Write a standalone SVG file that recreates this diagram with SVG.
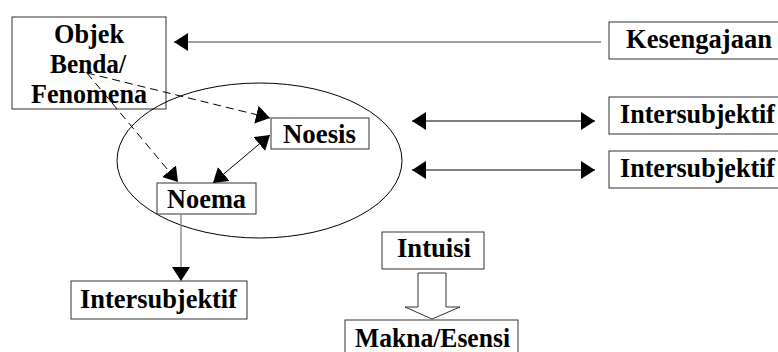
<svg xmlns="http://www.w3.org/2000/svg" width="778" height="352" viewBox="0 0 778 352">
<defs>
<style>
.box{fill:#fff;stroke:#333;stroke-width:1}
.ln{stroke:#000;stroke-width:1;fill:none}
.gray{stroke:#808080;stroke-width:1.3;fill:none}
.dash{stroke:#000;stroke-width:1;fill:none;stroke-dasharray:8 5}
</style>
<marker id="ah" markerUnits="userSpaceOnUse" markerWidth="15" markerHeight="19" refX="14" refY="9" orient="auto-start-reverse" viewBox="0 0 15 19">
<path d="M0,0 L14,9 L0,18 z" fill="#000"/>
</marker>
</defs>
<rect width="778" height="352" fill="#fff"/>
<g font-family="Liberation Serif, Tinos, Times New Roman, serif" font-weight="bold" font-size="26.5" fill="#000">
<g id="objek">
<rect class="box" x="12" y="17" width="154" height="92"/>
<text x="54" y="43" textLength="70" lengthAdjust="spacingAndGlyphs">Objek</text>
<text x="50" y="73" textLength="76" lengthAdjust="spacingAndGlyphs">Benda/</text>
<text x="31" y="103" textLength="116" lengthAdjust="spacingAndGlyphs">Fenomena</text>
</g>
<g id="kesengajaan">
<rect class="box" x="609" y="22" width="190" height="37"/>
<text x="626" y="48" textLength="146" lengthAdjust="spacingAndGlyphs">Kesengajaan</text>
</g>
<g id="intersubjektif1">
<rect class="box" x="609" y="97" width="190" height="37"/>
<text x="620" y="123" textLength="155" lengthAdjust="spacingAndGlyphs">Intersubjektif</text>
</g>
<g id="intersubjektif2">
<rect class="box" x="609" y="151" width="190" height="37"/>
<text x="620" y="177" textLength="155" lengthAdjust="spacingAndGlyphs">Intersubjektif</text>
</g>
<g id="kesadaran">
<ellipse class="ln" cx="259.5" cy="160.5" rx="142.5" ry="77.5"/>
</g>
<g id="noesis">
<rect class="box" x="271" y="118" width="98" height="31"/>
<text x="283" y="143" textLength="73" lengthAdjust="spacingAndGlyphs">Noesis</text>
</g>
<g id="noema">
<rect class="box" x="157" y="183" width="99" height="31"/>
<text x="167" y="208" textLength="79" lengthAdjust="spacingAndGlyphs">Noema</text>
</g>
<g id="intersubjektif3">
<rect class="box" x="71" y="281" width="176" height="38"/>
<text x="80" y="308" textLength="157" lengthAdjust="spacingAndGlyphs">Intersubjektif</text>
</g>
<g id="intuisi">
<rect class="box" x="382" y="232" width="102" height="37"/>
<text x="397" y="257" textLength="74" lengthAdjust="spacingAndGlyphs">Intuisi</text>
</g>
<g id="makna">
<rect class="box" x="345" y="320" width="173" height="40"/>
<text x="355" y="347" textLength="155" lengthAdjust="spacingAndGlyphs">Makna/Esensi</text>
</g>
</g>
<g id="connectors">
<line class="gray" x1="601" y1="42" x2="174" y2="42" marker-end="url(#ah)"/>
<line class="ln" x1="412" y1="121" x2="595" y2="121" marker-start="url(#ah)" marker-end="url(#ah)"/>
<line class="ln" x1="412" y1="170" x2="595" y2="170" marker-start="url(#ah)" marker-end="url(#ah)"/>
<line class="dash" x1="87" y1="73" x2="270" y2="118" marker-end="url(#ah)"/>
<line class="dash" x1="87" y1="73" x2="178" y2="182" marker-end="url(#ah)"/>
<line class="ln" x1="213" y1="183" x2="270" y2="135" marker-start="url(#ah)" marker-end="url(#ah)"/>
<line class="gray" x1="181" y1="214" x2="181" y2="281" marker-end="url(#ah)"/>
<polygon points="418,273 446,273 446,307 460,307 432,319 405,307 418,307" fill="#fff" stroke="#333" stroke-width="1"/>
</g>
</svg>
